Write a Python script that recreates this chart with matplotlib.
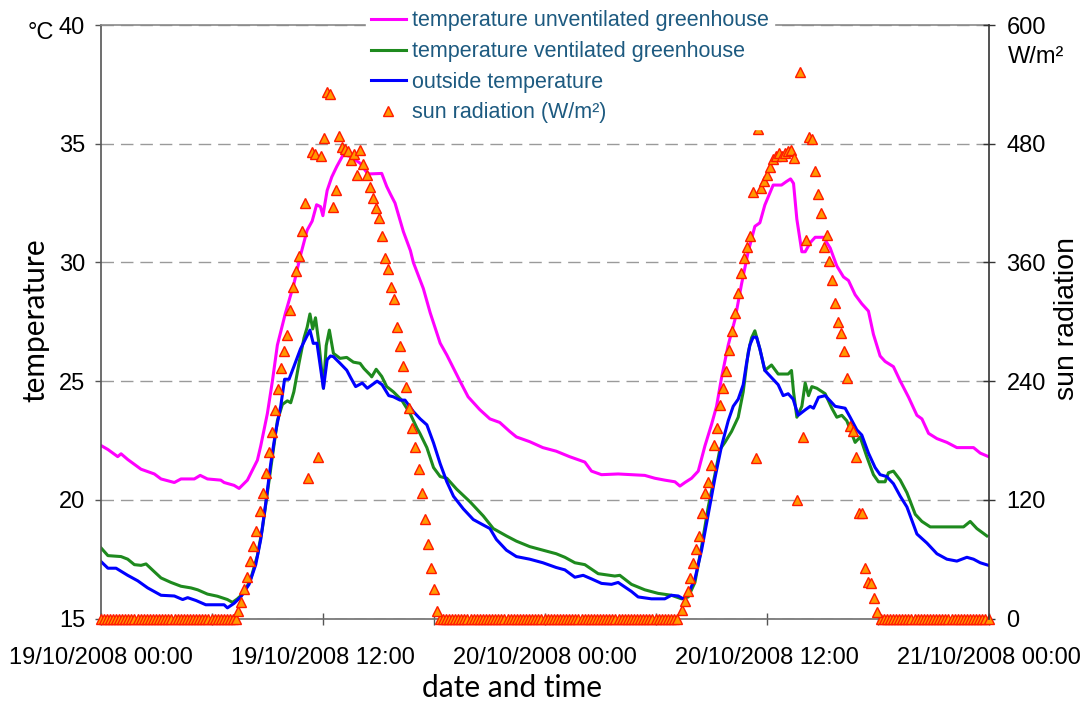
import numpy as np
import matplotlib
matplotlib.use('Agg')
import matplotlib.pyplot as plt

plt.rcParams['font.family'] = ['Liberation Sans', 'DejaVu Sans']

# hours after 19/10/2008 00:00
HOURS_UNVENT = [0.0, 0.4, 0.93, 1.11, 1.47, 2.19, 2.91, 3.27, 3.99, 4.35, 5.07, 5.39, 5.78, 6.5, 6.68,
	7.22, 7.49, 7.94, 8.48, 8.66, 9.02, 9.29, 9.56, 10.0, 10.45, 10.81, 11.17, 11.44, 11.68, 11.89,
	12.02, 12.25, 12.5, 12.77, 13.12, 13.49, 14.03, 14.42, 14.57, 15.2, 15.47, 15.67, 15.92, 16.37,
	16.75, 16.91, 17.45, 17.82, 18.36, 18.72, 19.43, 19.87, 20.5, 21.05, 21.58, 22.12, 22.48, 23.2,
	23.91, 24.63, 25.35, 25.64, 26.18, 26.54, 27.08, 27.98, 29.42, 29.96, 30.5, 31.05, 31.32, 31.59,
	31.95, 32.31, 32.67, 33.03, 33.3, 33.57, 33.93, 34.29, 34.65, 35.01, 35.37, 35.64, 35.91, 36.36,
	36.81, 37.08, 37.3, 37.46, 37.64, 37.91, 38.09, 38.36, 38.63, 39.08, 39.44, 39.8, 40.16, 40.43,
	40.79, 41.15, 41.51, 41.78, 42.14, 42.41, 42.86, 43.23, 43.68, 44.13, 44.4, 44.76, 45.21, 45.75,
	46.29, 47.19, 47.55, 48.0]
TEMP_UNVENT = [22.3, 22.12, 21.82, 21.94, 21.7, 21.29, 21.09, 20.88, 20.73, 20.88, 20.88, 21.03, 20.88,
	20.83, 20.73, 20.61, 20.48, 20.83, 21.67, 22.27, 23.64, 25.0, 26.52, 27.88, 29.09, 30.3, 31.36,
	31.74, 32.43, 32.35, 31.97, 33.03, 33.6, 34.04, 34.54, 34.47, 34.18, 33.76, 33.73, 33.75, 33.2,
	32.88, 32.5, 31.3, 30.5, 30.0, 28.9, 27.88, 26.6, 26.1, 25.0, 24.34, 23.8, 23.41, 23.26, 22.88,
	22.65, 22.45, 22.2, 22.05, 21.82, 21.74, 21.59, 21.21, 21.06, 21.09, 21.03, 20.91, 20.83, 20.76,
	20.58, 20.73, 20.91, 21.21, 22.27, 23.18, 23.94, 25.15, 26.52, 27.58, 29.09, 30.45, 31.52, 31.67,
	32.42, 33.26, 33.26, 33.41, 33.52, 33.33, 31.82, 30.45, 30.45, 30.83, 31.06, 31.06, 30.61, 29.85,
	29.39, 29.24, 28.64, 28.26, 27.95, 26.97, 26.06, 25.83, 25.61, 25.0, 24.32, 23.56, 23.41, 22.8,
	22.58, 22.42, 22.2, 22.2, 21.97, 21.82]

HOURS_VENT = [0.0, 0.4, 1.11, 1.47, 1.83, 2.19, 2.46, 2.91, 3.27, 3.81, 4.35, 4.89, 5.25, 5.78, 6.32,
	6.86, 7.13, 7.4, 7.76, 8.12, 8.48, 8.75, 9.02, 9.29, 9.56, 9.83, 10.1, 10.28, 10.45, 10.73, 11.0,
	11.17, 11.32, 11.47, 11.62, 11.82, 12.05, 12.2, 12.37, 12.59, 12.95, 13.31, 13.67, 14.03, 14.24,
	14.59, 14.66, 14.9, 15.2, 15.47, 15.83, 16.28, 16.73, 17.1, 17.27, 17.64, 18.0, 18.36, 18.72,
	19.25, 19.97, 20.69, 21.23, 21.94, 22.48, 23.2, 23.91, 24.63, 25.1, 25.64, 26.18, 26.9, 27.8,
	28.07, 28.7, 29.42, 30.14, 30.86, 31.41, 31.77, 32.13, 32.49, 32.85, 33.21, 33.48, 33.75, 34.11,
	34.47, 34.74, 35.01, 35.19, 35.37, 35.64, 35.91, 36.27, 36.63, 37.17, 37.35, 37.46, 37.64, 37.91,
	38.09, 38.27, 38.45, 38.72, 39.17, 39.53, 39.8, 40.07, 40.34, 40.79, 41.06, 41.42, 41.78, 42.05,
	42.41, 42.59, 42.86, 43.23, 43.59, 44.04, 44.4, 44.85, 46.65, 47.01, 47.37, 47.91]
TEMP_VENT = [18.0, 17.65, 17.61, 17.5, 17.27, 17.24, 17.3, 16.97, 16.71, 16.52, 16.36, 16.29, 16.21,
	16.03, 15.94, 15.8, 15.68, 15.83, 16.09, 16.67, 17.65, 18.79, 20.3, 21.82, 23.33, 24.02, 24.17,
	24.09, 24.55, 25.76, 26.82, 27.27, 27.83, 27.2, 27.67, 26.5, 24.7, 26.5, 27.15, 26.17, 25.96,
	26.0, 25.8, 25.75, 25.53, 25.25, 25.18, 25.5, 25.2, 24.77, 24.55, 24.2, 23.64, 23.03, 22.79,
	22.2, 21.36, 20.98, 20.91, 20.45, 19.92, 19.32, 18.79, 18.48, 18.26, 18.03, 17.88, 17.73, 17.58,
	17.35, 17.27, 16.89, 16.79, 16.82, 16.44, 16.21, 16.06, 15.98, 15.83, 15.91, 16.52, 18.03, 19.7,
	21.06, 22.12, 22.42, 22.88, 23.48, 24.55, 26.21, 26.82, 27.12, 26.36, 25.45, 25.68, 25.3, 25.3,
	25.45, 24.55, 23.48, 23.94, 24.92, 24.39, 24.77, 24.7, 24.47, 23.86, 23.48, 23.56, 23.33, 22.42,
	22.65, 21.82, 21.06, 20.76, 20.76, 21.14, 21.21, 20.83, 20.3, 19.39, 19.09, 18.86, 18.86, 19.09,
	18.79, 18.48]

HOURS_OUT = [0.0, 0.4, 0.84, 1.47, 2.01, 2.55, 3.27, 3.99, 4.44, 4.71, 5.16, 5.69, 6.68, 6.86, 7.22,
	7.58, 8.03, 8.39, 8.66, 8.93, 9.2, 9.47, 9.74, 9.95, 10.19, 10.45, 10.81, 11.32, 11.5, 11.7, 11.8,
	12.05, 12.25, 12.43, 12.59, 12.95, 13.31, 13.52, 13.79, 14.15, 14.42, 14.95, 15.22, 15.58, 15.83,
	16.19, 16.46, 16.92, 17.28, 17.64, 18.0, 18.36, 18.72, 19.08, 19.61, 20.15, 20.69, 21.05, 21.4,
	21.94, 22.48, 23.2, 23.91, 24.63, 25.1, 25.64, 26.09, 26.54, 27.08, 27.62, 27.98, 28.7, 29.06,
	29.78, 30.5, 30.86, 31.23, 31.5, 31.77, 32.13, 32.49, 32.85, 33.21, 33.57, 33.93, 34.2, 34.47,
	34.74, 34.92, 35.1, 35.28, 35.46, 35.64, 35.91, 36.27, 36.63, 36.9, 37.17, 37.44, 37.71, 38.09,
	38.36, 38.54, 38.81, 39.17, 39.44, 39.71, 40.25, 40.52, 40.88, 41.15, 41.51, 41.87, 42.14, 42.5,
	42.86, 43.23, 43.59, 44.13, 44.67, 45.21, 45.75, 46.29, 46.83, 47.19, 47.55, 48.0]
TEMP_OUT = [17.42, 17.12, 17.12, 16.82, 16.59, 16.29, 15.98, 15.95, 15.8, 15.88, 15.76, 15.58, 15.58,
	15.45, 15.64, 15.91, 16.44, 17.27, 18.33, 19.85, 21.52, 22.88, 23.94, 25.08, 25.08, 25.61, 26.36,
	27.15, 26.59, 26.6, 26.06, 24.7, 25.9, 26.06, 26.03, 25.75, 25.46, 25.15, 24.77, 24.92, 24.7,
	25.0, 24.85, 24.39, 24.34, 24.2, 24.2, 23.71, 23.41, 23.16, 22.4, 21.52, 20.76, 20.15, 19.62,
	19.17, 18.94, 18.79, 18.33, 17.88, 17.61, 17.5, 17.35, 17.15, 17.05, 16.74, 16.82, 16.67, 16.48,
	16.44, 16.52, 16.14, 15.91, 15.83, 15.83, 15.98, 15.95, 15.83, 16.06, 16.67, 17.88, 19.39, 20.91,
	22.27, 23.33, 23.94, 24.24, 24.85, 25.76, 26.52, 26.85, 26.85, 26.36, 25.45, 25.15, 24.85, 24.39,
	24.47, 24.24, 23.56, 23.79, 23.94, 23.86, 24.32, 24.39, 24.17, 23.94, 23.86, 23.48, 22.95, 22.73,
	21.97, 21.36, 21.06, 20.98, 20.68, 20.15, 19.7, 18.56, 18.18, 17.73, 17.5, 17.42, 17.58, 17.5,
	17.35, 17.24]

# sun radiation [W/m2], 10 min readings between sunrise and sunset, zero at night
SUN_DAY1 = [8, 17, 30, 42, 58, 73, 89, 109, 127, 147, 168, 189, 211, 232, 253, 270, 287, 312, 335, 351,
	367, 392, 420, 142, 472, 470, 163, 468, 486, 532, 530, 416, 433, 488, 477, 475, 473, 464, 470, 448,
	474, 460, 448, 436, 425, 415, 405, 387, 365, 353, 335, 323, 295, 276, 255, 234, 213, 193, 173, 151,
	127, 101, 75, 51, 30, 8]
SUN_DAY2 = [9, 18, 28, 41, 56, 70, 83, 107, 127, 138, 155, 175, 193, 216, 233, 250, 271, 291, 309, 329,
	349, 364, 376, 387, 431, 162, 495, 435, 442, 448, 456, 465, 468, 471, 468, 471, 473, 474, 466, 120,
	553, 184, 383, 487, 485, 452, 429, 410, 376, 388, 361, 342, 319, 300, 289, 270, 243, 195, 190, 163,
	107, 107, 51, 37, 36, 21, 7]
SUN_DAY1_SPAN = (7.44, 18.18)
SUN_DAY2_SPAN = (31.41, 41.96)

XTICK_LABELS = ['19/10/2008 00:00', '19/10/2008 12:00', '20/10/2008 00:00',
	'20/10/2008 12:00', '21/10/2008 00:00']


t_day1 = np.linspace(SUN_DAY1_SPAN[0], SUN_DAY1_SPAN[1], len(SUN_DAY1))
t_day2 = np.linspace(SUN_DAY2_SPAN[0], SUN_DAY2_SPAN[1], len(SUN_DAY2))
t_grid = np.arange(0, 48 + 1e-6, 1 / 6)
is_night = ((t_grid < SUN_DAY1_SPAN[0] - 0.08)
	| ((t_grid > SUN_DAY1_SPAN[1] + 0.08) & (t_grid < SUN_DAY2_SPAN[0] - 0.08))
	| (t_grid > SUN_DAY2_SPAN[1] + 0.08))
t_night = t_grid[is_night]

sun_t = np.concatenate([t_night, t_day1, t_day2])
sun_v = np.concatenate([np.zeros(len(t_night)), SUN_DAY1, SUN_DAY2])

fig = plt.figure(figsize=(10.82, 7.02), dpi=100)
ax = fig.add_axes([0.0929, 0.1189, 0.8207, 0.8454])
ax2 = ax.twinx()

l1, = ax.plot(HOURS_UNVENT, TEMP_UNVENT, color='#FF00FF', lw=2.2, label='temperature unventilated greenhouse')
l2, = ax.plot(HOURS_VENT, TEMP_VENT, color='#1E8A1E', lw=2.2, label='temperature ventilated greenhouse')
l3, = ax.plot(HOURS_OUT, TEMP_OUT, color='#0000FF', lw=2.2, label='outside temperature')
l4, = ax2.plot(sun_t, sun_v, linestyle='none', marker='^', markersize=7, mfc='#FF9900',
	mec='#FF1A00', mew=1.0, clip_on=False, label='sun radiation (W/m²)')

ax.set_xlim(0, 48)
ax.set_ylim(15, 40)
ax2.set_ylim(0, 600)

ax.set_xticks([0, 12, 24, 36, 48])
ax.set_xticklabels(XTICK_LABELS)
ax.set_xticks([6, 18, 30, 42], minor=True)
ax.set_yticks([15, 20, 25, 30, 35, 40])
ax2.set_yticks([0, 120, 240, 360, 480, 600])

ax.yaxis.grid(True, color='#9a9a9a', linestyle=(0, (9, 5)), linewidth=1.0)
ax.set_axisbelow(True)

ax.spines['right'].set_visible(False)
for s in ['left', 'top', 'bottom']:
	ax2.spines[s].set_visible(False)
ax.spines['left'].set_color('#555555')
ax.spines['bottom'].set_color('#6e6e6e')
ax.spines['top'].set_color('#8a8a8a')
ax2.spines['right'].set_color('#333333')
for sp in [ax.spines['left'], ax.spines['bottom'], ax.spines['top'], ax2.spines['right']]:
	sp.set_linewidth(1.2)

ax.tick_params(axis='y', direction='out', length=4, width=1, color='#555555', labelsize=17, pad=7)
ax.tick_params(axis='x', which='both', direction='inout', length=9, width=1, color='#555555',
	labelsize=17, pad=16)
ax2.tick_params(axis='y', direction='inout', length=9, width=1, color='#333333', labelsize=17, pad=8.5)

fig.text(41 / 1082, 1 - 33 / 702, '°C', ha='center', va='center', fontsize=17)
fig.text(1008 / 1082, 1 - 57 / 702, 'W/m²', ha='left', va='center', fontsize=17)

fig.text(35 / 1082, 1 - 320 / 702, 'temperature', rotation=90, ha='center', va='center',
	fontsize=21.5, family='Lato')
fig.text(1067 / 1082, 1 - 319 / 702, 'sun radiation', rotation=90, ha='center', va='center',
	fontsize=20.5)
fig.text(512 / 1082, 1 - 688 / 702, 'date and time', ha='center', va='center',
	fontsize=21.5, family='Lato')

leg = ax2.legend([l1, l2, l3, l4], [h.get_label() for h in [l1, l2, l3, l4]],
	loc='upper center', bbox_to_anchor=(570 / 1082, 1 - 5 / 702), bbox_transform=fig.transFigure,
	fontsize=15.5, labelcolor='#1d5a80', frameon=True, fancybox=False, framealpha=1,
	facecolor='white', edgecolor='white', borderpad=0.25, labelspacing=0.45,
	handlelength=1.6, handletextpad=0.3, numpoints=1, borderaxespad=0)

fig.savefig('out.png', dpi=100)
